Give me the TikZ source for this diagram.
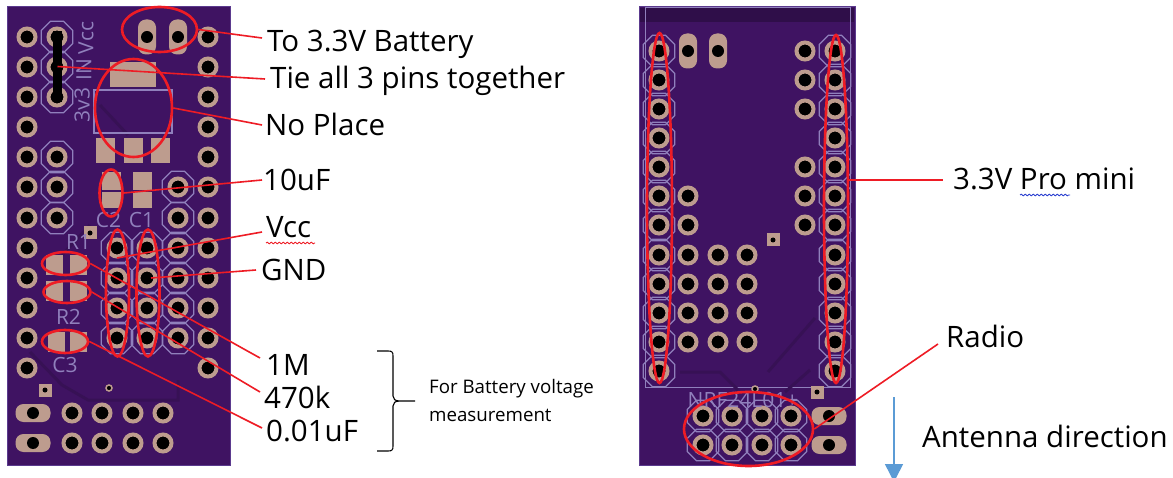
\documentclass[tikz,border=0pt]{standalone}
\usepackage{fontspec}
\setmainfont{Open Sans}
\usepackage{tikz}
\usetikzlibrary{arrows.meta,decorations.pathmorphing,shapes.geometric}
\definecolor{board}{HTML}{3F1362}
\definecolor{boardedge}{HTML}{5B3A8E}
\definecolor{silk}{HTML}{9080BC}
\definecolor{copper}{HTML}{BD9C8E}
\definecolor{marker}{HTML}{EE1C25}
\definecolor{arrowblue}{HTML}{5B9BD5}
\definecolor{spellblue}{HTML}{2A3FD0}

\tikzset{
	every node/.style={align=left,inner sep=0pt},
	hole/.style={circle,draw=copper,line width=4pt,fill=black,minimum size=17pt},
	smdpad/.style={rectangle,fill=copper},
	via/.style={rectangle,fill=copper,minimum size=13pt},
	viahole/.style={circle,fill=black,minimum size=5pt},
	longhole/.style={circle,fill=black,minimum size=12pt},
	octring/.style={regular polygon,regular polygon sides=8,draw=silk,line width=1.3pt,minimum size=34pt},
	silktext/.style={text=silk,font=\fontsize{21}{21}\selectfont},
	trace/.style={draw=board!87!black,line width=3pt},
	ring/.style={ellipse,draw=marker,line width=2.6pt},
	lead/.style={draw=marker,line width=1.6pt},
	callout/.style={font=\fontsize{29.5}{32}\selectfont,anchor=base west},
	smalltext/.style={font=\fontsize{18.7}{28}\selectfont,anchor=base west}
}

\begin{document}
\begin{tikzpicture}[x=1pt,y=-1pt]
	\useasboundingbox (0,0) rectangle (1173,478);
	\fill[white] (0,0) rectangle (1173,478);

	% boards
	\draw[fill=board,draw=boardedge,line width=1pt] (7,7) rectangle (230,465);
	\draw[fill=board,draw=boardedge,line width=1pt] (639,7) rectangle (855,465);
	\fill[board!75!black] (640,8) rectangle (854,22);
	\draw[silk,line width=1pt] (645,8) -- (645,387) -- (850,387) -- (850,8) -- cycle;

	% traces
	\path[trace] (100,105) -- (128,135) (182,200) -- (205,178) (90,225) -- (62,255);
	\path[trace] (30,352) -- (62,385) -- (88,400) -- (178,400) -- (178,380)
		(768,372) -- (815,318) (680,372) -- (720,372) -- (738,390) (810,370) -- (785,392);

	% octagon outlines round the holes
	\foreach \x/\y in {57/37,57/67,57/97,57/157,57/187,57/218,178/187,178/218,178/248,178/278,178/308,178/338,117/248,117/278,117/308,117/338,147/248,147/278,147/308,147/338,
		659/51,659/80,659/109,659/138,659/167,659/196,659/225,659/255,659/284,659/313,659/342,659/371,
		835/51,835/80,835/109,835/138,835/167,835/196,835/225,835/255,835/284,835/313,835/342,835/371,
		703/416,732/416,762/416,791/416,703/445,732/445,762/445,791/445}
		\node[octring] (oct\x-\y) at (\x,\y) {};

	% smd pads, left board
	\node[smdpad,minimum width=46pt,minimum height=25pt] (padtop) at (133,74.5) {};
	\node[draw=silk,line width=1.3pt,minimum width=78pt,minimum height=43pt] (regbody) at (133,111.5) {};
	\foreach \x in {105.5,133,160}
		\node[smdpad,minimum width=19pt,minimum height=25pt] (padreg\x) at (\x,150.5) {};
	\node[smdpad,minimum width=19pt,minimum height=18pt] (padctwoa) at (111.5,181) {};
	\node[smdpad,minimum width=19pt,minimum height=16pt] (padctwob) at (111.5,200.5) {};
	\node[smdpad,minimum width=19pt,minimum height=18pt] (padconea) at (142,181) {};
	\node[smdpad,minimum width=19pt,minimum height=16pt] (padconeb) at (142,200.5) {};
	\foreach \x/\y in {54.5/265,78.5/265,54.5/291,78.5/291,56.5/342,78/342}
		\node[smdpad,minimum width=17pt,minimum height=20pt] (padr\x-\y) at (\x,\y) {};

	% holes
	\foreach \x/\y in {27/37,27/67,27/97,27/127,27/157,27/187,27/218,27/248,27/278,27/308,27/338,27/368,
		57/37,57/67,57/97,57/157,57/187,57/218,
		208/37,208/67,208/97,208/127,208/157,208/187,208/218,208/248,208/278,208/308,208/338,208/368,
		178/187,178/218,178/248,178/278,178/308,178/338,
		117/248,117/278,117/308,117/338,147/248,147/278,147/308,147/338,
		72/413,102/413,133/413,163/413,72/443,102/443,133/443,163/443,
		659/51,659/80,659/109,659/138,659/167,659/196,659/225,659/255,659/284,659/313,659/342,659/371,
		835/51,835/80,835/109,835/138,835/167,835/196,835/225,835/255,835/284,835/313,835/342,835/371,
		688/196,688/225,688/255,688/284,688/313,688/342,
		718/255,718/284,718/313,718/342,747/255,747/284,747/313,747/342,
		805/51,805/80,805/109,805/167,805/196,805/225,
		703/416,732/416,762/416,791/416,703/445,732/445,762/445,791/445}
		\node[hole] (h\x-\y) at (\x,\y) {};

	% long pads
	\foreach \x/\y in {147/37,178/37,688/51,718/51}{
		\fill[copper,rounded corners=8pt] (\x-9,\y-17.5) rectangle (\x+9,\y+17.5);
		\node[longhole] (oval\x-\y) at (\x,\y) {};
	}
	\foreach \x/\y in {33/413,33/443,829/416,829/445}{
		\fill[copper,rounded corners=8pt] (\x-17.5,\y-9) rectangle (\x+17.5,\y+9);
		\node[longhole] (oval\x-\y) at (\x,\y) {};
	}

	% vias
	\foreach \x/\y in {90/233,45/390,773/240,817/392}{
		\node[via] (v\x-\y) at (\x,\y) {};
		\node[viahole] (vh\x-\y) at (\x,\y) {};
	}
	\foreach \x/\y in {109/388,755/389}
		\node[circle,draw=copper,line width=1.5pt,fill=black,minimum size=6pt] (vr\x-\y) at (\x,\y) {};

	% silk labels
	\node[silktext,rotate=90] (sthree) at (82,105) {3v3};
	\node[silktext,rotate=90] (sin) at (84,70) {IN};
	\node[silktext,rotate=90] (svcc) at (86,38) {Vcc};
	\node[silktext] (sctwo) at (108.5,220) {C2};
	\node[silktext] (scone) at (141.5,220) {C1};
	\node[silktext] (srone) at (78.5,242) {R1};
	\node[silktext] (srtwo) at (68.5,317) {R2};
	\node[silktext] (scthree) at (65,365) {C3};
	\node[silktext] (snrf) at (743,400) {NRF24L01+};

	% jumper bar
	\node[fill=black,minimum width=9pt,minimum height=71pt] (bar) at (57.5,66.5) {};

	% marks
	\node[ring,minimum width=75pt,minimum height=45pt] (rbatt) at (159.5,29.5) {};
	\node[ring,minimum width=77pt,minimum height=98pt] (rreg) at (133.5,108) {};
	\node[ring,minimum width=23pt,minimum height=47pt] (rctwo) at (111,193) {};
	\node[ring,minimum width=23pt,minimum height=127pt] (rvcc) at (117.5,293) {};
	\node[ring,minimum width=23pt,minimum height=127pt] (rgnd) at (148,293) {};
	\node[ring,minimum width=47pt,minimum height=23pt] (rrone) at (65.5,263.5) {};
	\node[ring,minimum width=47pt,minimum height=22pt] (rrtwo) at (67,292) {};
	\node[ring,minimum width=46pt,minimum height=23pt] (rcthree) at (65,341.5) {};
	\node[ring,minimum width=25pt,minimum height=350pt] (rproa) at (659.5,208) {};
	\node[ring,minimum width=24pt,minimum height=348pt] (rprob) at (836,209) {};
	\node[ring,minimum width=129pt,minimum height=74pt] (rradio) at (748.5,429) {};

	% texts
	\node[callout] (tbatt) at (267,52) {To 3.3V Battery};
	\node[callout] (ttie) at (270,89) {Tie all 3 pins together};
	\node[callout] (tplace) at (265,136) {No Place};
	\node[callout] (tcap) at (263,191) {10uF};
	\node[callout] (tvcc) at (266,238) {Vcc};
	\node[callout] (tgnd) at (261,281) {GND};
	\node[callout] (tmeg) at (266,376) {1M};
	\node[callout] (tkilo) at (264,408) {470k};
	\node[callout] (tnano) at (266,441) {0.01uF};
	\node[smalltext] (tnote) at (429,421) {For Battery voltage\\measurement};
	\node[callout] (tpro) at (953,190) {3.3V Pro mini};
	\node[callout] (tradio) at (946,348) {Radio};
	\node[callout] (tant) at (922,447) {Antenna direction};

	% spelling squiggles
	\coordinate (wavevcca) at (266,243);
	\coordinate (wavevccb) at (315,243);
	\coordinate (waveproa) at (1020,195);
	\coordinate (waveprob) at (1070,195);
	\draw[marker,line width=.9pt,decorate,decoration={snake,amplitude=.8pt,segment length=4pt}] (wavevcca) -- (wavevccb);
	\draw[spellblue,line width=.9pt,decorate,decoration={snake,amplitude=.8pt,segment length=4pt}] (waveproa) -- (waveprob);

	% leads
	\coordinate (ebatt) at (262,38);
	\coordinate (etie) at (265,79);
	\coordinate (eplace) at (262,125);
	\coordinate (ecap) at (262,180);
	\coordinate (evcc) at (262,232);
	\coordinate (egnd) at (256,270);
	\coordinate (emeg) at (260,358);
	\coordinate (ekilo) at (260,392);
	\coordinate (enano) at (262,428);
	\coordinate (epro) at (943,180);
	\coordinate (eradio) at (938,344);
	\coordinate (svccpin) at (117,258);
	\coordinate (sgndpin) at (151,278);
	\path
	(rbatt.east) edge[lead] (ebatt)
	(bar.center) edge[lead] (etie)
	(rreg.east) edge[lead] (eplace)
	(rctwo.east) edge[lead] (ecap)
	(svccpin) edge[lead] (evcc)
	(sgndpin) edge[lead] (egnd)
	(rrone.east) edge[lead] (emeg)
	(rrtwo.east) edge[lead] (ekilo)
	(rcthree.east) edge[lead] (enano)
	(rprob.east |- epro) edge[lead] (epro)
	(rradio.east) edge[lead] (eradio);

	% brace
	\coordinate (bracetop) at (377,351);
	\coordinate (bracebot) at (377,451);
	\coordinate (bracetip) at (415,401);
	\draw[black,line width=1.1pt] (bracetop) -- (388,351) .. controls (392,351) and (393,352) .. (393,356) -- (393,396)
		.. controls (393,399) and (395,401) .. (400,401) -- (bracetip)
		(400,401) .. controls (395,401) and (393,403) .. (393,406) -- (393,446)
		.. controls (393,450) and (392,451) .. (388,451) -- (bracebot);

	% antenna arrow
	\coordinate (antstart) at (894,397);
	\coordinate (antend) at (894,482);
	\draw[arrowblue,line width=1.5pt,-{Triangle[width=18pt,length=18pt]}] (antstart) -- (antend);
\end{tikzpicture}
\end{document}
